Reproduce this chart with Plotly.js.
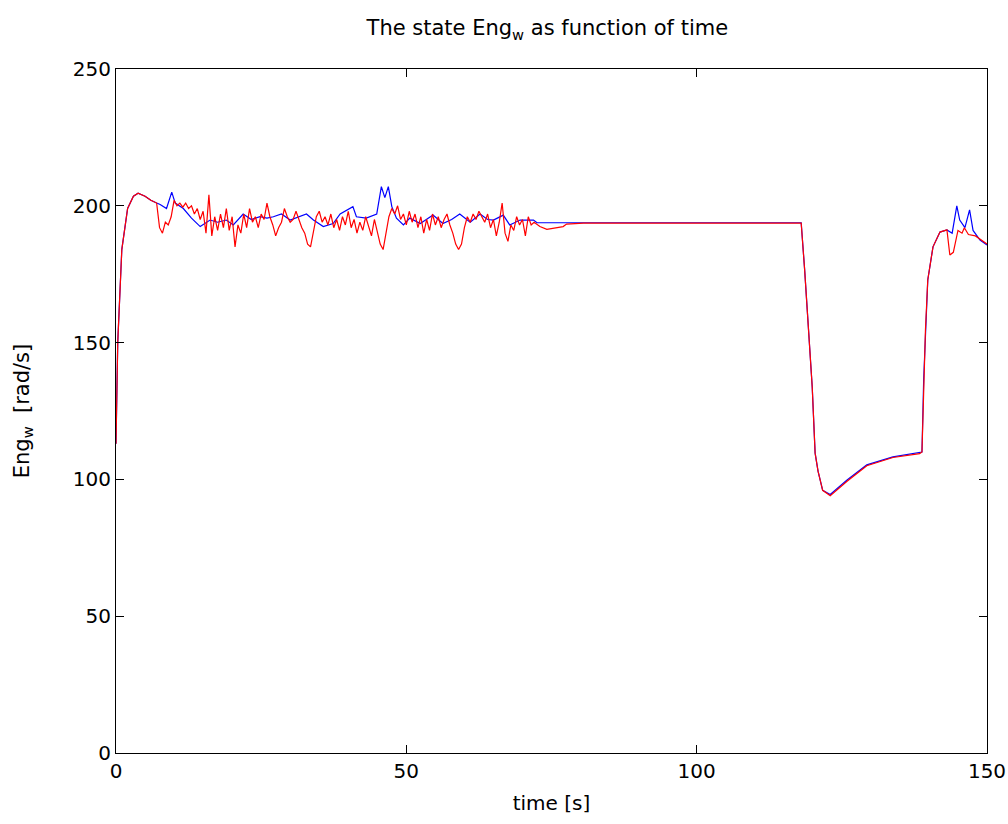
<!DOCTYPE html>
<html>
<head>
<meta charset="utf-8">
<script src="https://cdn.plot.ly/plotly-3.0.1.min.js"></script>
<style>html,body{margin:0;padding:0;background:#fff;}#chart{width:1008px;height:824px;}</style>
</head>
<body>
<div id="chart"></div>
<script>
// Blue series (time [s], Eng_w [rad/s])
const blueT = [0, 0.3, 1, 2, 3, 3.8, 5, 6, 7, 7.6, 8.7, 9.6, 10.2, 11.6, 13, 14.5, 16.2, 17.5, 19, 20.2, 21.9, 23.3, 24.8, 26, 27.1, 28.5, 30, 31.7, 32.8, 34, 35.7, 37.4, 38.6, 40.8, 41.4, 43.1, 44.9, 45.7, 46.3, 46.9, 47.5, 48.3, 49.5, 50.6, 52.4, 54.6, 56.3, 57.8, 59.2, 61, 62.7, 64, 65, 66.7, 67.8, 69.6, 71.9, 72.5, 80, 100, 118, 118.6, 119.2, 119.9, 120.4, 120.9, 121.7, 123, 125.9, 129.3, 133.8, 138.4, 138.8, 139.1, 139.4, 139.8, 140.7, 141.9, 143.1, 144, 144.8, 145.3, 146.2, 147, 147.6, 148.8, 150];
const blueV = [113, 150, 184, 199, 203.5, 204.6, 203.5, 202, 201, 200.5, 199, 205, 201, 199, 195.5, 192.4, 194.8, 194, 194.8, 193, 197, 195, 196, 195.5, 196, 197, 194.8, 196, 197, 194.8, 192.4, 193.5, 197, 199.7, 196, 195.5, 197, 207, 203, 207, 199.7, 195.5, 193, 195.5, 193.5, 196.6, 193.5, 195, 197, 194, 197, 195, 194.8, 196.6, 193, 194.8, 194.8, 193.8, 193.8, 193.8, 193.8, 176.5, 155.7, 133.8, 109.6, 103, 96, 94.5, 99.8, 105.3, 108.2, 109.6, 110, 137, 154.6, 172.9, 185, 190.4, 191.2, 190, 200, 194.8, 192, 198.5, 191, 187.5, 185.7];

// Red series (time [s], Eng_w [rad/s])
const redT = [0, 0.3, 1, 2, 3, 3.8, 5, 6, 7,
  7.5, 8, 8.5, 9, 9.5, 10, 10.5, 11, 11.5, 12, 12.5, 13, 13.5, 14, 14.5, 15, 15.5, 16, 16.5, 17, 17.5, 18, 18.5, 19, 19.5, 20, 20.5, 21, 21.5, 22, 22.5, 23, 23.5, 24, 24.5, 25, 25.5, 26, 26.5, 27, 27.5, 28, 28.5, 29, 29.5, 30, 30.5, 31, 31.5, 32, 32.5, 33, 33.5, 34, 34.5, 35, 35.5, 36, 36.5, 37, 37.5, 38, 38.5, 39, 39.5, 40, 40.5, 41, 41.5, 42, 42.5, 43, 43.5, 44, 44.5, 45, 45.5, 46, 46.5, 47, 47.5, 48, 48.5, 49, 49.5, 50, 50.5, 51, 51.5, 52, 52.5, 53, 53.5, 54, 54.5, 55, 55.5, 56, 56.5, 57, 57.5, 58, 58.5, 59, 59.5, 60, 60.5, 61, 61.5, 62, 62.5, 63, 63.5, 64, 64.5, 65, 65.5, 66, 66.5, 67, 67.5, 68, 68.5, 69, 69.5, 70, 70.5, 71, 71.5, 72,
  73, 74.2, 77, 77.6, 80.5, 100, 118, 118.6, 119.2, 119.9, 120.4, 120.9, 121.7, 123, 125.9, 129.3, 133.8, 138.4, 138.8, 139.1, 139.4, 139.8, 140.7, 141.9, 143.1, 143.6, 144.2, 145, 145.7, 146.1, 146.8, 148, 149.4, 150];
const redV = [113, 150, 184, 199, 203.5, 204.6, 203.5, 202, 201,
  192, 190, 194, 193, 196, 202, 200, 201, 199.5, 201, 199, 200, 197, 199, 195, 198, 190, 204, 189, 196, 191, 197, 192, 199, 191, 196, 185, 193, 190, 197, 192, 199, 194, 196, 192, 197, 195, 201, 196, 193, 189, 192, 194, 199, 196, 194, 195, 198, 195, 192, 190, 186, 185, 190, 196, 198, 194, 196, 193, 197, 192, 195, 191, 196, 193, 198, 192, 195, 190, 194, 191, 196, 192, 189, 195, 191, 186, 184, 190, 196, 199, 197, 200, 195, 197, 193, 198, 194, 197, 192, 196, 190, 195, 191, 197, 193, 196, 192, 195, 197, 193, 190, 186, 184, 186, 192, 196, 194, 197, 195, 198, 196, 194, 197, 192, 195, 189, 194, 201, 190, 187, 193, 191, 196, 193, 195, 189, 196, 193, 194,
  192.4, 191.4, 192.4, 193.3, 193.7, 193.7, 193.7, 176.5, 155.7, 133.8, 109.6, 103, 96, 94, 99.3, 105, 108, 109.4, 110, 137, 154.6, 172.9, 185, 190.4, 191.2, 182, 183, 191, 190, 192, 189.5, 189, 187, 186];

const xTicks = [0, 50, 100, 150];
const yTicks = [0, 50, 100, 150, 200, 250];

const fnt = {family: 'DejaVu Sans, Liberation Sans, sans-serif', color: '#000'};

const data = [
  {x: blueT, y: blueV, type: 'scatter', mode: 'lines', line: {color: '#0000ff', width: 1.2}, hoverinfo: 'skip'},
  {x: redT, y: redV, type: 'scatter', mode: 'lines', line: {color: '#ff0000', width: 1.2}, hoverinfo: 'skip'}
];

const axisCommon = {
  showline: true, linecolor: '#000', linewidth: 1, mirror: 'ticks',
  ticks: 'inside', ticklen: 8, tickcolor: '#000', tickwidth: 1,
  showgrid: false, zeroline: false, tickmode: 'array',
  tickfont: Object.assign({size: 20}, fnt)
};

const layout = {
  width: 1008, height: 824,
  margin: {l: 116, r: 21, t: 69, b: 71},
  paper_bgcolor: '#fff', plot_bgcolor: '#fff',
  showlegend: false,
  title: {text: 'The state Eng<sub>w</sub> as function of time', x: 0.543, xanchor: 'center', y: 0.966, yanchor: 'middle', font: Object.assign({size: 21}, fnt)},
  xaxis: Object.assign({}, axisCommon, {range: [0, 150], tickvals: xTicks, ticktext: xTicks.map(String),
    title: {text: 'time [s]', font: Object.assign({size: 20}, fnt), standoff: 13}}),
  yaxis: Object.assign({}, axisCommon, {range: [0, 250], tickvals: yTicks, ticktext: yTicks.map(String),
    title: {text: 'Eng<sub>w</sub>  [rad/s]', font: Object.assign({size: 21}, fnt), standoff: 37}})
};

Plotly.newPlot('chart', data, layout, {staticPlot: true, displayModeBar: false});
</script>
</body>
</html>
